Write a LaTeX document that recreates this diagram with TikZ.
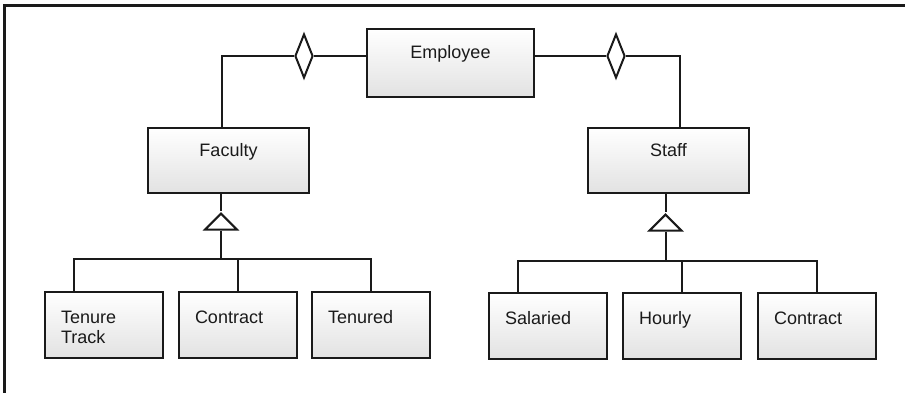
\documentclass[tikz,border=0pt]{standalone}
\usepackage{fontspec}
\setmainfont{Liberation Sans}
\usetikzlibrary{positioning, shapes.geometric}
\definecolor{umlline}{HTML}{1A1A1A}
\definecolor{umlshade}{HTML}{E2E2E2}
\tikzset{
  cbox/.style={rectangle, draw=umlline, line width=2pt, top color=white,
               bottom color=umlshade, inner xsep=0pt, inner ysep=0pt,
               align=center, text=umlline, font=\fontsize{18}{20}\selectfont},
  lbox/.style={cbox, text width=86pt, inner xsep=16pt, align=left,
               text height=31pt, text depth=35pt},
  agg/.style={diamond, draw=umlline, line width=2pt, fill=white, inner sep=0pt,
              minimum width=18pt, minimum height=44pt},
  gen/.style={isosceles triangle, isosceles triangle stretches,
              shape border rotate=90, draw=umlline, line width=2pt, fill=white,
              inner sep=0pt, minimum width=32pt, minimum height=16pt, anchor=apex},
  conn/.style={draw=umlline, line width=2pt},
}
\begin{document}
\begin{tikzpicture}[x=1pt, y=-1pt]
  \useasboundingbox (0,0) rectangle (905,393);
  % frame
  \draw[umlline, line width=3pt] (4.5,393) -- (4.5,5.5) -- (905,5.5);

  % --- top level ---
  \node[cbox, minimum width=167pt, text height=30pt, text depth=38pt] (emp) at (450.5,63) {Employee};
  \node[cbox, minimum width=161pt, text height=29pt, text depth=36pt] (fac) at (228.5,160.5) {Faculty};
  \node[cbox, minimum width=161pt, text height=29pt, text depth=36pt] (stf) at (668.5,160.5) {Staff};

  % aggregation diamonds
  \node[agg] (dL) at (304,56) {};
  \node[agg] (dR) at (616,56) {};
  \draw[conn] (emp.west |- dL) -- (dL.east);
  \draw[conn] (dL.west) -| ([xshift=-6.5pt]fac.north);
  \draw[conn] (emp.east |- dR) -- (dR.west);
  \draw[conn] (dR.east) -| ([xshift=11.5pt]stf.north);

  % --- Faculty kinds ---
  \node[lbox] (tt) at (104,325) {Tenure\\Track};
  \node[lbox, right=14pt of tt] (fc) {Contract};
  \node[lbox, right=13pt of fc] (ten) {Tenured};
  \node[gen] (triF) at (221,211) {};
  \coordinate (fj) at (221,259);
  \draw[conn] (triF.apex |- fac.south) -- (triF.apex);
  \draw[conn] (triF.lower side) -- (fj);
  \draw[conn] ([xshift=-30pt]tt.north) |- (fj) -| (ten.north);
  \draw[conn] (fc.north) -- (fc.north |- fj);

  % --- Staff kinds ---
  \node[lbox] (sal) at (548,326) {Salaried};
  \node[lbox, right=14pt of sal] (hr) {Hourly};
  \node[lbox, right=15pt of hr] (sc) {Contract};
  \node[gen] (triS) at (665.5,212) {};
  \coordinate (sj) at (665.5,261);
  \draw[conn] (triS.apex |- stf.south) -- (triS.apex);
  \draw[conn] (triS.lower side) -- (sj);
  \draw[conn] ([xshift=-30pt]sal.north) |- (sj) -| (sc.north);
  \draw[conn] (hr.north) -- (hr.north |- sj);
\end{tikzpicture}
\end{document}
